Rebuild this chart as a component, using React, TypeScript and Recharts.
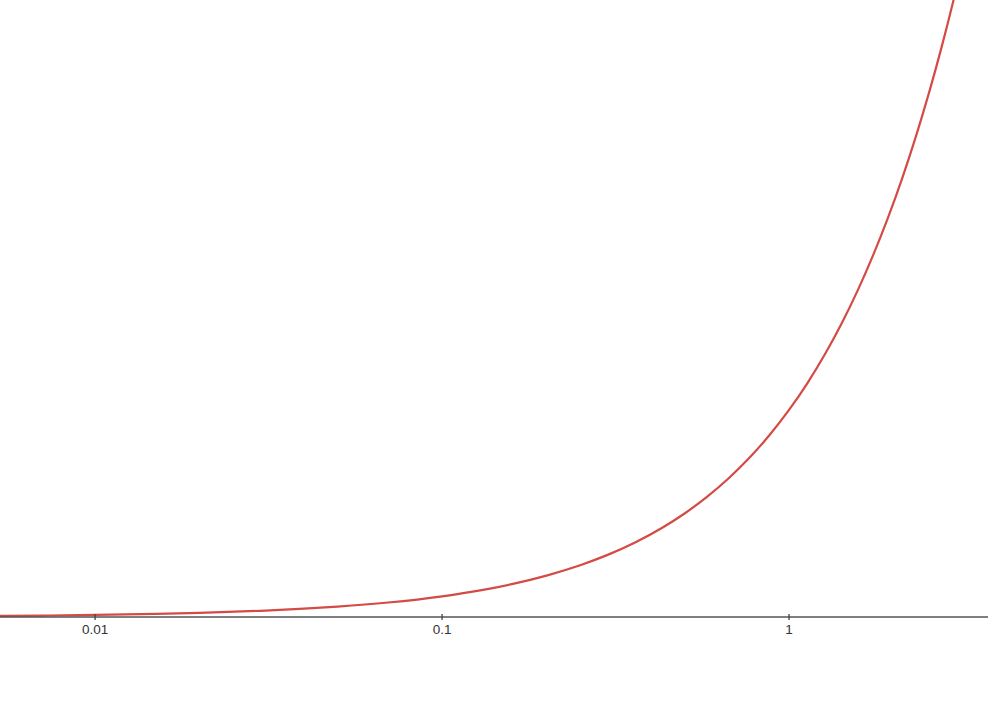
import React from 'react';
import { LineChart, Line, XAxis, YAxis } from 'recharts';

// readings: x on a log axis, y on a linear one
const xValues = [
  0.0053, 0.007, 0.01, 0.015, 0.02, 0.03, 0.04, 0.05, 0.07, 0.1, 0.13, 0.16, 0.2, 0.25,
  0.3, 0.36, 0.43, 0.5, 0.58, 0.67, 0.77, 0.88, 1.0, 1.13, 1.27, 1.42, 1.58, 1.75,
  1.93, 2.12, 2.32, 2.53, 2.75, 2.98, 3.22, 3.47, 3.75,
];
const yValues = [
  0.005, 0.007, 0.01, 0.015, 0.02, 0.03, 0.04, 0.05, 0.07, 0.1, 0.13, 0.16, 0.2, 0.25,
  0.3, 0.36, 0.43, 0.5, 0.58, 0.67, 0.77, 0.88, 1.0, 1.13, 1.27, 1.42, 1.58, 1.75,
  1.93, 2.12, 2.32, 2.53, 2.75, 2.98, 3.22, 3.47, 3.75,
];
const tickValues = [0.01, 0.1, 1];
const tickLabels = ['0.01', '0.1', '1'];

const data = xValues.map((x, i) => ({ x, y: yValues[i] }));

const AxisTick = (props: any) => {
  const { x, y, payload } = props;
  const idx = tickValues.indexOf(payload.value);
  return (
    <g>
      <line x1={x} y1={y - 3} x2={x} y2={y + 3} stroke="#444" strokeWidth={1.3} />
      <text x={x} y={y + 17} textAnchor="middle" fontSize={13.5} fill="#333" fontFamily="Liberation Sans, Arial, sans-serif">
        {idx >= 0 ? tickLabels[idx] : payload.value}
      </text>
    </g>
  );
};

export default function App() {
  return (
    <div style={{ position: 'absolute', left: 0, top: 0, background: '#fff' }}>
      <LineChart width={988} height={714} data={data} margin={{ top: 0, right: 0, left: 0, bottom: 67 }}>
        <XAxis
          dataKey="x"
          type="number"
          scale="log"
          domain={[0.00532, 3.745]}
          allowDataOverflow
          ticks={tickValues}
          tick={<AxisTick />}
          tickLine={false}
          tickSize={0}
          tickMargin={0}
          height={30}
          axisLine={{ stroke: '#555', strokeWidth: 1.5 }}
        />
        <YAxis hide type="number" domain={[0, 2.98]} allowDataOverflow />
        <Line
          type="monotone"
          dataKey="y"
          stroke="#d44a44"
          strokeWidth={2.2}
          dot={false}
          isAnimationActive={false}
        />
      </LineChart>
    </div>
  );
}
